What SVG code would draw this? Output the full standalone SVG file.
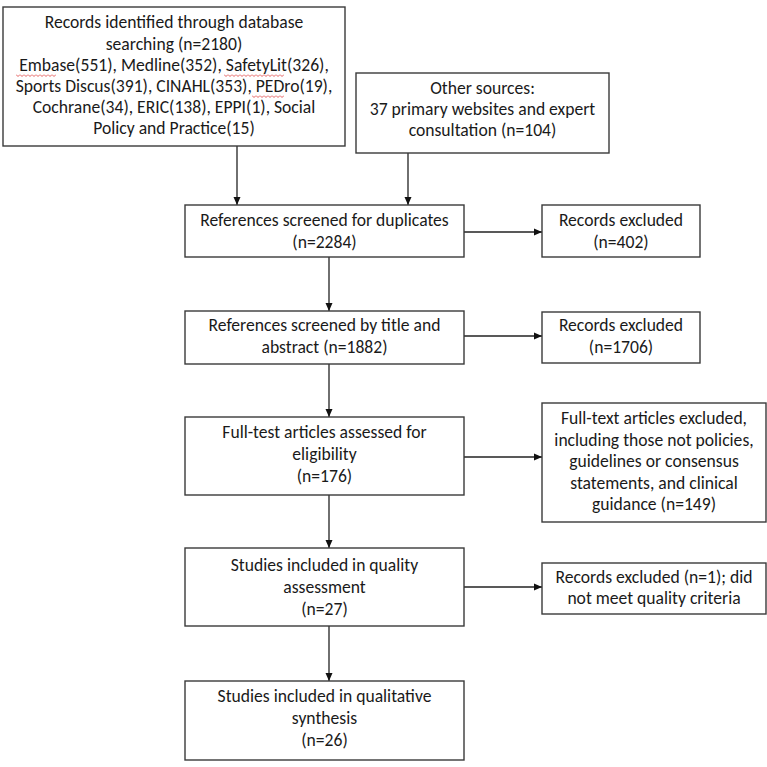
<svg xmlns="http://www.w3.org/2000/svg" width="767" height="767" viewBox="0 0 767 767">
<defs>
<style>
.box{fill:#fff;stroke:#3a3a3a;stroke-width:1.4}
.t{font-family:Carlito,Lato,"Open Sans",sans-serif;font-size:17.6px;fill:#1a1a1a;text-anchor:middle}
.c{stroke:#222;stroke-width:1.3;fill:none;marker-end:url(#ah)}
</style>
<marker id="ah" markerUnits="userSpaceOnUse" markerWidth="8" markerHeight="8" refX="8" refY="4" orient="auto">
<path d="M0,0.5 L8,4 L0,7.5 z" fill="#111"/>
</marker>
<pattern id="wavy" width="4" height="3" patternUnits="userSpaceOnUse" y="74">
<path d="M0,0.5 L2,2.5 L4,0.5" stroke="#d33" stroke-width="0.8" fill="none"/>
</pattern>
</defs>
<rect width="767" height="767" fill="#fff"/>
<g id="connectors">
<line class="c" x1="237" y1="146" x2="237" y2="205"/>
<line class="c" x1="408" y1="153" x2="408" y2="205"/>
<line class="c" x1="329" y1="257" x2="329" y2="311"/>
<line class="c" x1="329" y1="364" x2="329" y2="417"/>
<line class="c" x1="329" y1="495" x2="329" y2="548"/>
<line class="c" x1="329" y1="626" x2="329" y2="681"/>
<line class="c" x1="464" y1="232" x2="542" y2="232"/>
<line class="c" x1="464" y1="336" x2="542" y2="336"/>
<line class="c" x1="464" y1="457" x2="542" y2="457"/>
<line class="c" x1="464" y1="587" x2="542" y2="587"/>
</g>
<g id="db">
<rect class="box" x="3" y="7" width="342" height="139"/>
<text class="t" x="174" y="28">Records identified through database</text>
<text class="t" x="174" y="50">searching (n=2180)</text>
<text class="t" x="174" y="71">Embase(551), Medline(352), SafetyLit(326),</text>
<text class="t" x="174" y="92">Sports Discus(391), CINAHL(353), PEDro(19),</text>
<text class="t" x="174" y="113">Cochrane(34), ERIC(138), EPPI(1), Social</text>
<text class="t" x="174" y="134">Policy and Practice(15)</text>
<rect x="16" y="74" width="40" height="3" fill="url(#wavy)"/>
<rect x="224" y="74" width="60" height="3" fill="url(#wavy)"/>
<rect x="252" y="95" width="32" height="3" fill="url(#wavy)"/>
</g>
<g id="other">
<rect class="box" x="356" y="73" width="253" height="80"/>
<text class="t" x="482.5" y="94">Other sources:</text>
<text class="t" x="482.5" y="115">37 primary websites and expert</text>
<text class="t" x="482.5" y="136">consultation (n=104)</text>
</g>
<g id="dup">
<rect class="box" x="185" y="205" width="279" height="52"/>
<text class="t" x="324.5" y="226">References screened for duplicates</text>
<text class="t" x="324.5" y="248">(n=2284)</text>
</g>
<g id="ex402">
<rect class="box" x="542" y="205" width="158" height="52"/>
<text class="t" x="621" y="226">Records excluded</text>
<text class="t" x="621" y="248">(n=402)</text>
</g>
<g id="title">
<rect class="box" x="185" y="311" width="279" height="53"/>
<text class="t" x="324.5" y="331">References screened by title and</text>
<text class="t" x="324.5" y="353">abstract (n=1882)</text>
</g>
<g id="ex1706">
<rect class="box" x="542" y="312" width="158" height="51"/>
<text class="t" x="621" y="331">Records excluded</text>
<text class="t" x="621" y="353">(n=1706)</text>
</g>
<g id="full">
<rect class="box" x="185" y="417" width="279" height="78"/>
<text class="t" x="324.5" y="438">Full-test articles assessed for</text>
<text class="t" x="324.5" y="460">eligibility</text>
<text class="t" x="324.5" y="482">(n=176)</text>
</g>
<g id="ex149">
<rect class="box" x="542" y="403" width="224" height="119"/>
<text class="t" x="654" y="424">Full-text articles excluded,</text>
<text class="t" x="654" y="445.5">including those not policies,</text>
<text class="t" x="654" y="467">guidelines or consensus</text>
<text class="t" x="654" y="488.5">statements, and clinical</text>
<text class="t" x="654" y="510">guidance (n=149)</text>
</g>
<g id="quality">
<rect class="box" x="185" y="548" width="279" height="78"/>
<text class="t" x="324.5" y="571">Studies included in quality</text>
<text class="t" x="324.5" y="593">assessment</text>
<text class="t" x="324.5" y="615">(n=27)</text>
</g>
<g id="ex1">
<rect class="box" x="542" y="563" width="224" height="51"/>
<text class="t" x="654" y="583">Records excluded (n=1); did</text>
<text class="t" x="654" y="604">not meet quality criteria</text>
</g>
<g id="synth">
<rect class="box" x="185" y="681" width="279" height="79"/>
<text class="t" x="324.5" y="702">Studies included in qualitative</text>
<text class="t" x="324.5" y="724">synthesis</text>
<text class="t" x="324.5" y="746">(n=26)</text>
</g>
</svg>
